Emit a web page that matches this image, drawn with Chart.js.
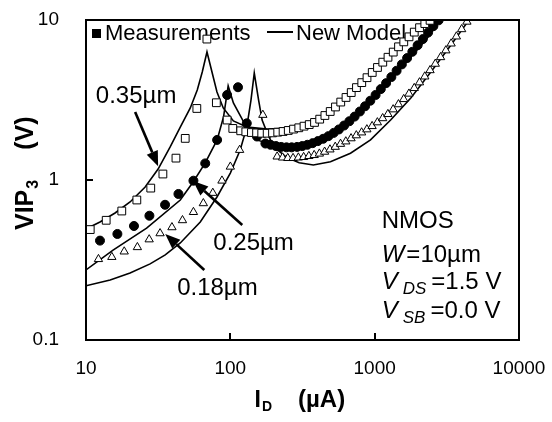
<!DOCTYPE html>
<html>
<head>
<meta charset="utf-8">
<script src="https://cdn.jsdelivr.net/npm/chart.js@4.4.1/dist/chart.umd.min.js"></script>
<style>
  html, body { margin: 0; padding: 0; background: #fff; }
</style>
</head>
<body>
<canvas id="vip3-chart" width="552" height="422"></canvas>
<script>
// Axis ticks
const xTicks = [10, 100, 1000, 10000];
const yTicks = [0.1, 1, 10];
const xTickLabels = ['10', '100', '1000', '10000'];
const yTickLabels = ['0.1', '1', '10'];

// Measurements, 0.35um (open squares)
const meas035Id = [10.7, 13.8, 17.7, 22.5, 28.1, 34.1, 42.0, 48.7, 58.6, 68.8, 80, 95, 104, 118,
    128, 140, 152, 165, 180, 196, 213, 232, 252, 274, 298, 324, 352, 383, 416, 452, 492, 535,
    582, 633, 688, 748, 814, 885, 962, 1046, 1138, 1237, 1345, 1463, 1591, 1730, 1881, 2046, 2225, 2420];
const meas035Vip = [0.49, 0.56, 0.64, 0.75, 0.89, 1.09, 1.37, 1.82, 2.8, 7.6, 3.04, 2.37, 2.10, 2.03,
    2.00, 1.98, 1.97, 1.96, 1.96, 1.97, 1.99, 2.01, 2.04, 2.08, 2.12, 2.17, 2.22, 2.29, 2.40, 2.53, 2.68, 2.86,
    3.07, 3.28, 3.52, 3.78, 4.06, 4.36, 4.70, 5.05, 5.45, 5.85, 6.30, 6.80, 7.30, 7.85, 8.40, 8.95, 9.50, 9.95];

// Measurements, 0.25um (filled circles)
const meas025Id = [12.5, 16.5, 21.5, 27.5, 35.3, 43.7, 55.5, 67, 81, 95, 113, 130, 153,
    175, 190, 207, 225, 245, 266, 290, 315, 342, 372, 404, 440, 478, 520, 565, 614, 668, 726,
    790, 858, 933, 1015, 1103, 1200, 1305, 1419, 1543, 1678, 1824, 1984, 2157, 2345, 2550, 2773];
const meas025Vip = [0.418, 0.46, 0.516, 0.598, 0.70, 0.818, 0.99, 1.27, 1.78, 3.4, 3.8, 2.26, 1.87,
    1.69, 1.66, 1.63, 1.61, 1.60, 1.60, 1.61, 1.63, 1.66, 1.70, 1.75, 1.81, 1.88, 1.97, 2.07, 2.19, 2.33, 2.49,
    2.68, 2.89, 3.13, 3.40, 3.70, 4.03, 4.40, 4.82, 5.28, 5.78, 6.33, 6.95, 7.60, 8.35, 9.15, 9.95];

// Measurements, 0.18um (open triangles)
const meas018Id = [12.2, 15.1, 18.4, 22.7, 27.4, 32.6, 39.4, 46.6, 55.5, 65, 75.6, 87.5, 100, 116, 168,
    211, 230, 250, 272, 296, 322, 350, 381, 414, 450, 490, 533, 580, 631, 686, 746, 812, 883, 960,
    1044, 1136, 1235, 1343, 1461, 1589, 1728, 1880, 2045, 2224, 2419, 2631, 2862, 3113, 3386, 3683, 4006, 4357];
const meas018Vip = [0.32, 0.33, 0.357, 0.38, 0.425, 0.464, 0.506, 0.56, 0.63, 0.715, 0.83, 0.99, 1.21, 1.54, 2.55,
    1.40, 1.38, 1.37, 1.37, 1.38, 1.39, 1.41, 1.43, 1.46, 1.50, 1.55, 1.61, 1.68, 1.74, 1.82, 1.90, 1.98, 2.07, 2.17,
    2.29, 2.43, 2.58, 2.76, 2.97, 3.20, 3.46, 3.75, 4.07, 4.43, 4.85, 5.32, 5.85, 6.45, 7.12, 7.88, 8.75, 9.75];

// New model curves
const model035Id = [10, 12.5, 15.9, 20.2, 25.7, 31.6, 38.3, 45, 52.8, 59, 63.9, 68.9, 80.8, 89.3, 105, 131,
    181, 261, 376, 581, 894, 1290, 1780, 2330];
const model035Vip = [0.494, 0.546, 0.622, 0.729, 0.904, 1.17, 1.61, 2.14, 2.82, 3.65, 4.73, 6.31, 3.55, 2.82, 2.34, 2.14,
    2.08, 2.11, 2.30, 3.07, 4.34, 6.04, 8.06, 10];

const model025Id = [10, 15.4, 26.3, 45, 55.4, 67, 81, 89.8, 96.6, 105, 123.6, 153, 199, 274, 306, 422,
    581, 894, 1290, 1780, 2260, 2870];
const model025Vip = [0.274, 0.365, 0.5, 0.75, 0.976, 1.28, 1.78, 2.49, 3.87, 3.03, 2.31, 1.78, 1.65, 1.62, 1.63, 1.78,
    2.11, 2.94, 4.22, 5.87, 7.5, 10];

const model018Id = [10, 14.7, 20.2, 27.8, 35.4, 45, 61.9, 80.8, 100, 117, 130, 139, 146.5, 157, 166, 180, 200,
    247, 300, 376, 494, 680, 936, 1290, 1780, 2450, 3380, 4500];
const model018Vip = [0.218, 0.237, 0.262, 0.299, 0.34, 0.404, 0.546, 0.783, 1.105, 1.54, 2.14, 3.16, 4.66, 3.16, 2.37, 1.97, 1.61,
    1.38, 1.28, 1.24, 1.30, 1.47, 1.78, 2.37, 3.25, 4.73, 6.98, 10];

// Channel length labels with their arrows (data coordinates)
const sizeLabels = ['0.35\u00b5m', '0.25\u00b5m', '0.18\u00b5m'];
const sizeLabelAt = [[11.7, 3.03], [76.2, 0.365], [42.8, 0.191]];
const arrowFrom = [[21.9, 2.66], [121, 0.523], [66.0, 0.274]];
const arrowTo = [[31.6, 1.22], [55.3, 0.986], [35.4, 0.46]];

const FONT = '"Liberation Sans", Arial, sans-serif';
Chart.defaults.font.family = FONT;
Chart.defaults.color = '#000';

function toPoints(xs, ys) {
    return xs.map((x, i) => ({ x: x, y: ys[i] }));
}

function drawArrow(c, x1, y1, x2, y2) {
    const ang = Math.atan2(y2 - y1, x2 - x1);
    const headLen = 15, headW = 6;
    const bx = x2 - Math.cos(ang) * headLen;
    const by = y2 - Math.sin(ang) * headLen;
    c.beginPath();
    c.moveTo(x1, y1);
    c.lineTo(bx, by);
    c.lineWidth = 2.6;
    c.stroke();
    c.beginPath();
    c.moveTo(x2, y2);
    c.lineTo(bx + Math.sin(ang) * headW, by - Math.cos(ang) * headW);
    c.lineTo(bx - Math.sin(ang) * headW, by + Math.cos(ang) * headW);
    c.closePath();
    c.fill();
}

// Draw text pieces one after another: [text, font, dy, gap]
function drawRun(c, x, y, pieces) {
    pieces.forEach(p => {
        c.font = p[1];
        c.fillText(p[0], x, y + (p[2] || 0));
        x += c.measureText(p[0]).width + (p[3] || 0);
    });
}

const figureDecor = {
    id: 'figureDecor',
    beforeDatasetsDraw(chart) {
        // legend inside the plot, under the markers
        const c = chart.ctx, a = chart.chartArea;
        c.save();
        c.fillStyle = '#000';
        c.fillRect(a.left + 6, a.top + 9, 9, 9);
        c.font = '22px ' + FONT;
        c.textBaseline = 'alphabetic';
        c.fillText('Measurements', a.left + 19, a.top + 20);
        c.fillRect(a.left + 181, a.top + 11, 26, 2);
        c.fillText('New Model', a.left + 210, a.top + 20);
        c.restore();
    },
    afterDatasetsDraw(chart) {
        const c = chart.ctx;
        const xs = chart.scales.x, ys = chart.scales.y;
        c.save();
        c.strokeStyle = '#000';
        c.fillStyle = '#000';

        // channel length labels and arrows
        c.font = '24px ' + FONT;
        c.textBaseline = 'alphabetic';
        sizeLabels.forEach((t, i) => {
            c.fillText(t, xs.getPixelForValue(sizeLabelAt[i][0]), ys.getPixelForValue(sizeLabelAt[i][1]));
            drawArrow(c,
                xs.getPixelForValue(arrowFrom[i][0]), ys.getPixelForValue(arrowFrom[i][1]),
                xs.getPixelForValue(arrowTo[i][0]), ys.getPixelForValue(arrowTo[i][1]));
        });

        // device conditions
        const tx = xs.getPixelForValue(1119);
        const reg = '24px ' + FONT, ital = 'italic 24px ' + FONT, sub = 'italic 17px ' + FONT;
        drawRun(c, tx, ys.getPixelForValue(0.501), [['NMOS', reg]]);
        drawRun(c, tx, ys.getPixelForValue(0.307), [['W', ital, 0, 2], ['=10\u00b5m', reg]]);
        drawRun(c, tx, ys.getPixelForValue(0.208), [['V', ital, 0, 5], ['DS', sub, 5, 5], ['=1.5 V', reg]]);
        drawRun(c, tx, ys.getPixelForValue(0.137), [['V', ital, 0, 5], ['SB', sub, 5, 5], ['=0.0 V', reg]]);
        c.restore();
    },
    afterDraw(chart) {
        const c = chart.ctx, a = chart.chartArea;
        const xs = chart.scales.x, ys = chart.scales.y;
        c.save();
        c.fillStyle = '#000';

        // frame round the plot, as filled strips
        const L = Math.round(a.left), R = Math.round(a.right);
        const T = Math.round(a.top), B = Math.round(a.bottom);
        c.fillRect(L - 1, T - 1, R - L + 2, 2);
        c.fillRect(L - 1, B - 1, R - L + 2, 2);
        c.fillRect(L - 1, T - 1, 2, B - T + 2);
        c.fillRect(R - 1, T - 1, 2, B - T + 2);

        // inward tick marks
        xTicks.slice(1, -1).forEach(v => {
            c.fillRect(Math.round(xs.getPixelForValue(v)) - 1, B - 7, 2, 7);
        });
        yTicks.slice(1, -1).forEach(v => {
            c.fillRect(L, Math.round(ys.getPixelForValue(v)) - 1, 7, 2);
        });

        c.textBaseline = 'alphabetic';
        // x axis title: I_D (uA)
        const cx = (a.left + a.right) / 2;
        drawRun(c, cx - 48, a.bottom + 67, [
            ['I', 'bold 23px ' + FONT, 0, 1],
            ['D', 'bold 14px ' + FONT, 4, 26],
            ['(\u00b5A)', 'bold 24px ' + FONT]
        ]);
        // y axis title: VIP3 (V)
        c.translate(33, 230);
        c.rotate(-Math.PI / 2);
        drawRun(c, 0, 0, [
            ['VIP', 'bold 25px ' + FONT, 0, 1],
            ['3', 'bold 16px ' + FONT, 5, 30],
            ['(V)', 'bold 25px ' + FONT]
        ]);
        c.restore();
    }
};

new Chart(document.getElementById('vip3-chart'), {
    type: 'scatter',
    data: {
        datasets: [
            {
                label: 'Measurements 0.35um',
                data: toPoints(meas035Id, meas035Vip),
                pointStyle: 'rect', pointRadius: 5.5, borderWidth: 1,
                borderColor: '#000', backgroundColor: '#fff', order: 1
            },
            {
                label: 'Measurements 0.25um',
                data: toPoints(meas025Id, meas025Vip),
                pointStyle: 'circle', pointRadius: 4.5, borderWidth: 1,
                borderColor: '#000', backgroundColor: '#000', order: 2
            },
            {
                label: 'Measurements 0.18um',
                data: toPoints(meas018Id, meas018Vip),
                pointStyle: 'triangle', pointRadius: 4.8, borderWidth: 1,
                borderColor: '#000', backgroundColor: '#fff', order: 3
            },
            {
                label: 'New Model 0.35um',
                data: toPoints(model035Id, model035Vip),
                showLine: true, pointRadius: 0, borderWidth: 1.6, borderColor: '#000', order: 4
            },
            {
                label: 'New Model 0.25um',
                data: toPoints(model025Id, model025Vip),
                showLine: true, pointRadius: 0, borderWidth: 1.6, borderColor: '#000', order: 5
            },
            {
                label: 'New Model 0.18um',
                data: toPoints(model018Id, model018Vip),
                showLine: true, pointRadius: 0, borderWidth: 1.6, borderColor: '#000', order: 6
            }
        ]
    },
    options: {
        responsive: false,
        animation: false,
        layout: { padding: { top: 20, right: 33, left: 0, bottom: 0 } },
        plugins: {
            legend: { display: false },
            tooltip: { enabled: false }
        },
        scales: {
            x: {
                type: 'logarithmic',
                min: 10, max: 10000,
                grid: { display: false },
                border: { display: false },
                ticks: {
                    padding: 9,
                    font: { size: 19 },
                    autoSkip: false, maxRotation: 0,
                    callback: (v) => xTickLabels[xTicks.indexOf(v)]
                },
                afterBuildTicks: (s) => { s.ticks = xTicks.map(v => ({ value: v })); },
                afterFit: (s) => {
                    s.height = 82;
                    s.paddingLeft = 0; s.paddingRight = 0;
                }
            },
            y: {
                type: 'logarithmic',
                min: 0.1, max: 10,
                grid: { display: false },
                border: { display: false },
                ticks: {
                    padding: 19,
                    font: { size: 19 },
                    autoSkip: false,
                    callback: (v) => yTickLabels[yTicks.indexOf(v)]
                },
                afterBuildTicks: (s) => { s.ticks = yTicks.map(v => ({ value: v })); },
                afterFit: (s) => {
                    s.width = 86;
                    s.paddingTop = 0; s.paddingBottom = 0;
                }
            }
        }
    },
    plugins: [figureDecor]
});
</script>
</body>
</html>
